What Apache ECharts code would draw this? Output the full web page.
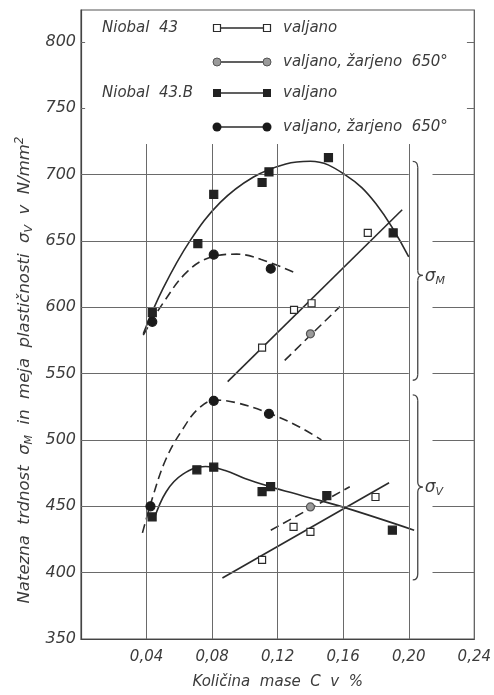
<!DOCTYPE html>
<html><head><meta charset="utf-8">
<script src="https://cdn.jsdelivr.net/npm/echarts@6/dist/echarts.min.js"></script>
<style>html,body{margin:0;padding:0;background:#fff}#c{width:494px;height:695px}</style>
</head><body><div id="c"></div>
<script>
// ---------- data ----------
const xTickLabels = ['0,04','0,08','0,12','0,16','0,20','0,24'];
const yTicks = [350,400,450,500,550,600,650,700,750,800];

// Niobal 43 – valjano (open squares)
const n43ValM = [[0.1105,569.5],[0.130,598],[0.1407,603],[0.175,656]];
const n43ValMFit = [[0.0895,544],[0.196,673.5]];
const n43ValV = [[0.1105,409.6],[0.1297,434.5],[0.140,430.7],[0.1797,457]];
const n43ValVFit = [[0.0863,396],[0.188,467.7]];
// Niobal 43 – valjano, žarjeno 650° (grey circles)
const n43ZarM = [[0.140,580]];
const n43ZarMFit = [[0.1243,560],[0.158,600.5]];
const n43ZarV = [[0.140,449.5]];
const n43ZarVFit = [[0.1158,432],[0.164,464.7]];
// Niobal 43.B – valjano (filled squares)
const n43bValM = [[0.0435,596],[0.0713,648],[0.081,685],[0.1105,694],[0.1147,702],[0.151,712.7],[0.1905,656]];
const n43bValMCurve = [[0.038,580],[0.05,614],[0.0665,650],[0.085,679],[0.105,698],[0.125,708],[0.14,710],[0.161,700],[0.18,678],[0.2,638]];
const n43bValV = [[0.0434,442],[0.0707,477.5],[0.081,479.5],[0.1105,461],[0.1157,464.8],[0.15,458],[0.190,432]];
const n43bValVCurve = [[0.0445,440],[0.052,461],[0.062,474],[0.076,480],[0.088,477],[0.1,471],[0.115,465],[0.135,458],[0.161,449],[0.2033,432]];
// Niobal 43.B – valjano, žarjeno 650° (filled circles)
const n43bZarM = [[0.0435,589],[0.081,639.6],[0.1158,629]];
const n43bZarMCurve = [[0.038,579],[0.05,603],[0.065,627],[0.08,638],[0.095,640],[0.11,636],[0.1304,626]];
const n43bZarV = [[0.0424,450],[0.081,529.5],[0.1147,519.7]];
const n43bZarVCurve = [[0.0375,430],[0.044,458],[0.052,486],[0.062,508],[0.072,524],[0.082,530],[0.095,528],[0.115,520],[0.133,510],[0.1467,500]];

// ---------- styling ----------
const FONT = 'DejaVu Sans';
const INK = '#2b2b2b';
const GRID = '#6a6a6a';
const TXT = '#3c3c3c';

// grid segments (broken grid as in the original)
const gridSegs = [];
[400,450,500,550,600,650,700].forEach(y=>{
  gridSegs.push([{coord:[0,y]},{coord:[0.2,y]}]);
  gridSegs.push([{coord:[0.2145,y]},{coord:[0.24,y]}]);
});
[750,800].forEach(y=>{
  gridSegs.push([{coord:[0,y]},{coord:[0.0025,y]}]);
  gridSegs.push([{coord:[0.2355,y]},{coord:[0.24,y]}]);
});
[0.04,0.08,0.12,0.16,0.2].forEach(x=>{
  gridSegs.push([{coord:[x,350]},{coord:[x,723]}]);
});

function lineS(data, dashed, smooth){
  return {type:'line', data, showSymbol:false, smooth: smooth?0.4:false, silent:true,
    lineStyle:{color:INK, width:1.6, type: dashed?[9,5]:'solid'}, z:3};
}
function pts(data, symbol, size, fill, border){
  return {type:'scatter', data, symbol, symbolSize:size, silent:true,
    itemStyle:{color:fill, borderColor:border, borderWidth:1.2, opacity:1}, z:5};
}

const chart = echarts.init(document.getElementById('c'), null, {renderer:'canvas'});
const option = {
  backgroundColor:'#ffffff',
  animation:false,
  grid:{left:81, right:16.5, top:10, bottom:56, show:true, borderColor:'#555', borderWidth:1.2, backgroundColor:'transparent'},
  xAxis:{type:'value', min:0, max:0.24, interval:0.04,
    axisLine:{show:true, lineStyle:{color:'#444', width:1.2}}, axisTick:{show:false}, splitLine:{show:false},
    axisLabel:{fontFamily:FONT, fontStyle:'italic', fontSize:15, color:TXT, margin:11,
      formatter:v=>{const i=Math.round(v/0.04)-1; return i>=0 && i<xTickLabels.length ? xTickLabels[i] : '';}},
    name:'Količina  mase  C  v  %', nameLocation:'middle', nameGap:36,
    nameTextStyle:{fontFamily:FONT, fontStyle:'italic', fontSize:15, color:TXT}
  },
  yAxis:{type:'value', min:350, max:824, interval:50,
    axisLine:{show:true, lineStyle:{color:'#444', width:1.2}}, axisTick:{show:false}, splitLine:{show:false},
    axisLabel:{fontFamily:FONT, fontStyle:'italic', fontSize:16, color:TXT, margin:5,
      formatter:v=> yTicks.indexOf(v)>=0 ? String(v) : ''}
  },
  series:[
    {type:'line', data:[], silent:true,
      markLine:{silent:true, symbol:['none','none'], label:{show:false}, animation:false,
        lineStyle:{color:GRID, width:1, type:'solid'}, data:gridSegs}},
    lineS(n43ValMFit,false,false),
    lineS(n43ValVFit,false,false),
    lineS(n43ZarMFit,true,false),
    lineS(n43ZarVFit,true,false),
    lineS(n43bValMCurve,false,true),
    lineS(n43bValVCurve,false,true),
    lineS(n43bZarMCurve,true,true),
    lineS(n43bZarVCurve,true,true),
    pts(n43ValM,'rect',7,'#ffffff',INK),
    pts(n43ValV,'rect',7,'#ffffff',INK),
    pts(n43ZarM,'circle',8,'#9a9a9a','#555'),
    pts(n43ZarV,'circle',8,'#9a9a9a','#555'),
    pts(n43bValM,'rect',8,'#222','#222'),
    pts(n43bValV,'rect',8,'#222','#222'),
    pts(n43bZarM,'circle',9,'#1a1a1a','#1a1a1a'),
    pts(n43bZarV,'circle',9,'#1a1a1a','#1a1a1a')
  ]
};
chart.setOption(option);

// ---------- annotations: legend, braces, y-axis title ----------
const P = (x,y)=>chart.convertToPixel({gridIndex:0},[x,y]);
const txtStyle = (t,extra)=>Object.assign({text:t, fontFamily:FONT, fontStyle:'italic', fontSize:15, fill:TXT}, extra||{});
const g = [];
const rows = [
  {y:28, label:'Niobal  43', text:'valjano', sym:'sqOpen'},
  {y:62, label:'', text:'valjano, žarjeno  650°', sym:'grey'},
  {y:93, label:'Niobal  43.B', text:'valjano', sym:'sqFill'},
  {y:127, label:'', text:'valjano, žarjeno  650°', sym:'dot'}
];
rows.forEach(r=>{
  if(r.label) g.push({type:'text', x:102, y:r.y, style:txtStyle(r.label,{verticalAlign:'middle'})});
  g.push({type:'line', shape:{x1:217,y1:r.y,x2:267,y2:r.y}, style:{stroke:INK, lineWidth:1.4}});
  [217,267].forEach(cx=>{
    if(r.sym==='sqOpen') g.push({type:'rect', shape:{x:cx-3.5,y:r.y-3.5,width:7,height:7}, style:{fill:'#fff',stroke:INK,lineWidth:1.2}, z:10});
    if(r.sym==='sqFill') g.push({type:'rect', shape:{x:cx-4,y:r.y-4,width:8,height:8}, style:{fill:'#222'}, z:10});
    if(r.sym==='grey') g.push({type:'circle', shape:{cx:cx,cy:r.y,r:4}, style:{fill:'#9a9a9a',stroke:'#555',lineWidth:1}, z:10});
    if(r.sym==='dot') g.push({type:'circle', shape:{cx:cx,cy:r.y,r:4.5}, style:{fill:'#1a1a1a'}, z:10});
  });
  g.push({type:'text', x:283, y:r.y, style:txtStyle(r.text,{verticalAlign:'middle'})});
});

function brace(vTop, vTip, vBot, sub){
  const bx = P(0.2,400)[0] + 9;
  const yt = P(0.2,vTop)[1], ym = P(0.2,vTip)[1], yb = P(0.2,vBot)[1];
  const st = {stroke:'#444', lineWidth:1.3, fill:null};
  g.push({type:'bezierCurve', shape:{x1:bx-5,y1:yt,cpx1:bx,cpy1:yt,x2:bx,y2:yt+6}, style:st});
  g.push({type:'line', shape:{x1:bx,y1:yt+6,x2:bx,y2:ym-5}, style:st});
  g.push({type:'bezierCurve', shape:{x1:bx,y1:ym-5,cpx1:bx,cpy1:ym,x2:bx+5,y2:ym}, style:st});
  g.push({type:'bezierCurve', shape:{x1:bx+5,y1:ym,cpx1:bx,cpy1:ym,x2:bx,y2:ym+5}, style:st});
  g.push({type:'line', shape:{x1:bx,y1:ym+5,x2:bx,y2:yb-6}, style:st});
  g.push({type:'bezierCurve', shape:{x1:bx,y1:yb-6,cpx1:bx,cpy1:yb,x2:bx-5,y2:yb}, style:st});
  g.push({type:'text', x:bx+7, y:ym+1, style:{text:'σ{s|'+sub+'}', fontFamily:FONT, fontStyle:'italic', fontSize:17, fill:TXT, verticalAlign:'middle',
    rich:{s:{fontFamily:FONT, fontStyle:'italic', fontSize:11, fill:TXT, padding:[9,0,0,0]}}}});
}
brace(710, 624, 545, 'M');
brace(534, 464.5, 394.5, 'V');

g.push({type:'text', x:25, y:370, rotation:Math.PI/2,
  style:{text:'Natezna  trdnost  σ{s|M}  in  meja  plastičnosti  σ{s|V}  v  N/mm{p|2}',
    fontFamily:FONT, fontStyle:'italic', fontSize:16.5, fill:TXT, align:'center', verticalAlign:'middle',
    rich:{s:{fontFamily:FONT, fontStyle:'italic', fontSize:11, fill:TXT, padding:[9,0,0,0]},
          p:{fontFamily:FONT, fontStyle:'italic', fontSize:12, fill:TXT, padding:[0,0,10,0]}}}});

chart.setOption({graphic:{elements:g}});
</script></body></html>
